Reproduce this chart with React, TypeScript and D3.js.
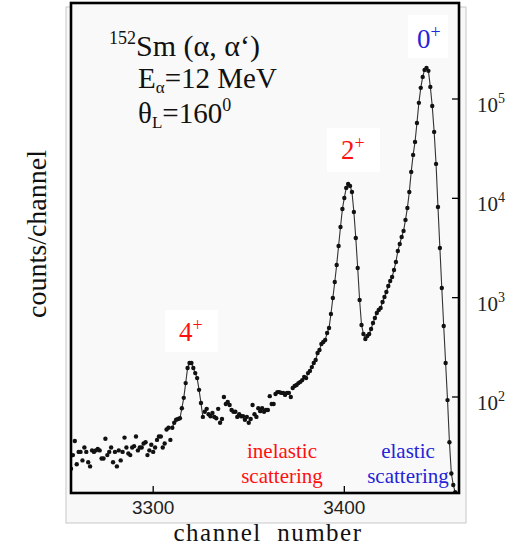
import React from 'react';
import * as d3 from 'd3';

// spectrum: one value per channel starting at firstChannel
const firstChannel = 3257;
const counts = [
  19, 26, 36, 21, 28, 28, 23, 31, 28, 22,
  20, 29, 28, 29, 30, 29, 24, 24, 38, 26,
  28, 31, 22, 28, 20, 29, 23, 28, 39, 31,
  27, 26, 31, 32, 40, 29, 31, 31, 34, 35,
  26, 29, 33, 28, 31, 37, 40, 40, 31, 34,
  47, 49, 37, 49, 55, 59, 60, 61, 77, 98,
  138, 196, 220, 220, 196, 174, 155, 118, 87, 63,
  71, 76, 67, 64, 69, 63, 61, 76, 55, 60,
  100, 85, 89, 83, 74, 71, 71, 63, 67, 64,
  64, 59, 63, 55, 60, 83, 67, 63, 77, 72,
  77, 71, 74, 74, 102, 85, 85, 107, 112, 112,
  110, 110, 105, 110, 110, 100, 123, 129, 132, 138,
  142, 148, 159, 155, 174, 183, 200, 220, 236, 277,
  297, 342, 358, 375, 441, 495, 685, 993, 1439, 2133,
  3316, 5152, 7820, 10090, 12730, 13960, 13330, 11590, 7294, 3993,
  1991, 948, 531, 431, 384, 411, 431, 484, 556, 625,
  701, 752, 787, 905, 1016, 1141, 1312, 1473, 1616, 1901,
  2288, 2953, 3473, 4085, 4697, 6061, 8000, 11590, 18450, 27350,
  36980, 57410, 91410, 129400, 166900, 196300, 205600, 191900, 132400, 85100,
  46660, 22200, 8190, 3166, 1253, 519, 220, 93, 35, 17,
  13, 11,
];
// channel ranges drawn with a connecting line
const lineRanges = [
  [3310, 3326],
  [3375, 3458],
];
const xTicks = [3300, 3400];
const yTickExponents = [2, 3, 4, 5];

const serif = '"Liberation Serif", "Times New Roman", serif';
const sans = '"Liberation Sans", Arial, sans-serif';
const red = '#ff1010';
const blue = '#2424d8';

const App = () => {
  const x = d3.scaleLinear().domain([3257, 3460]).range([71, 459]);
  const y = d3.scaleLog().domain([10.8, 925500]).range([493, 3]);

  const points = counts.map((v, i) => ({ ch: firstChannel + i, v }));
  const line = d3
    .line<{ ch: number; v: number }>()
    .x((d) => x(d.ch))
    .y((d) => y(d.v));

  return (
    <svg width={520} height={548} style={{ position: 'absolute', left: 0, top: 0 }}>
      <defs>
        <clipPath id="plot">
          <rect x={71} y={3} width={388} height={490} />
        </clipPath>
      </defs>
      {/* outer light frame */}
      <rect x={66} y={7} width={400} height={516} fill="#f8f8f8" stroke="#c8c8c8" strokeWidth={1} />
      <rect x={71} y={3} width={388} height={490} fill="#f9f9f9" />

      {/* white boxes behind the peak labels */}
      <rect x={165} y={310} width={53} height={42} fill="#ffffff" />
      <rect x={327} y={128} width={53} height={44} fill="#ffffff" />
      <rect x={408} y={15} width={40} height={43} fill="#ffffff" />

      <g clipPath="url(#plot)">
        {lineRanges.map(([a, b], i) => (
          <path
            key={i}
            d={line(points.filter((p) => p.ch >= a && p.ch <= b)) || ''}
            fill="none"
            stroke="#333"
            strokeWidth={1.1}
          />
        ))}
        {points.map((p) => (
          <circle key={p.ch} cx={x(p.ch)} cy={y(p.v)} r={2.2} fill="#111" />
        ))}
      </g>

      {/* black frame */}
      <rect x={71} y={3} width={388} height={490} fill="none" stroke="#000" strokeWidth={2.6} />

      {/* x ticks */}
      {xTicks.map((t) => (
        <g key={t}>
          <line x1={x(t)} x2={x(t)} y1={493} y2={486} stroke="#000" strokeWidth={1.3} />
          <text x={x(t)} y={514} textAnchor="middle" fontFamily={sans} fontSize={19} fill="#222">
            {t}
          </text>
        </g>
      ))}

      {/* y ticks (log) */}
      {yTickExponents.map((e) => (
        <g key={e}>
          <line x1={459} x2={452} y1={y(10 ** e)} y2={y(10 ** e)} stroke="#000" strokeWidth={1.3} />
          <text x={477} y={y(10 ** e) + 13} fontFamily={serif} fontSize={21} fill="#222">
            10
            <tspan dy={-9} fontSize={14}>
              {e}
            </tspan>
          </text>
        </g>
      ))}

      {/* axis titles */}
      <text
        x={268}
        y={541}
        textAnchor="middle"
        fontFamily={serif}
        fontSize={25}
        letterSpacing={1.5}
        fill="#111"
      >
        {'channel\u00a0 number'}
      </text>
      <text
        transform="translate(46, 234) rotate(-90)"
        textAnchor="middle"
        fontFamily={serif}
        fontSize={28}
        fill="#111"
      >
        counts/channel
      </text>

      {/* reaction info */}
      <g fontFamily={serif} fill="#111">
        <text x={109} y={56} fontSize={30}>
          <tspan fontSize={18} dy={-12}>152</tspan>
          <tspan dy={12}>Sm (α, α‘)</tspan>
        </text>
        <text x={138} y={88} fontSize={29}>
          E<tspan fontSize={17} dy={5}>α</tspan>
          <tspan dy={-5}>=12 MeV</tspan>
        </text>
        <text x={138} y={123} fontSize={29}>
          θ<tspan fontSize={17} dy={5}>L</tspan>
          <tspan dy={-5}>=160</tspan>
          <tspan fontSize={18} dy={-12}>0</tspan>
        </text>
      </g>

      {/* peak labels */}
      <g fontFamily={serif} fontSize={27}>
        <text x={179} y={341} fill={red}>
          4<tspan fontSize={18} dy={-10}>+</tspan>
        </text>
        <text x={341} y={159} fill={red}>
          2<tspan fontSize={18} dy={-10}>+</tspan>
        </text>
        <text x={417} y={48} fill={blue}>
          0<tspan fontSize={18} dy={-10}>+</tspan>
        </text>
      </g>

      {/* region labels */}
      <g fontFamily={serif} fontSize={21} textAnchor="middle">
        <text x={282} y={458} fill={red}>inelastic</text>
        <text x={282} y={483} fill={red}>scattering</text>
        <text x={408} y={458} fill={blue}>elastic</text>
        <text x={408} y={483} fill={blue}>scattering</text>
      </g>
    </svg>
  );
};

export default App;
